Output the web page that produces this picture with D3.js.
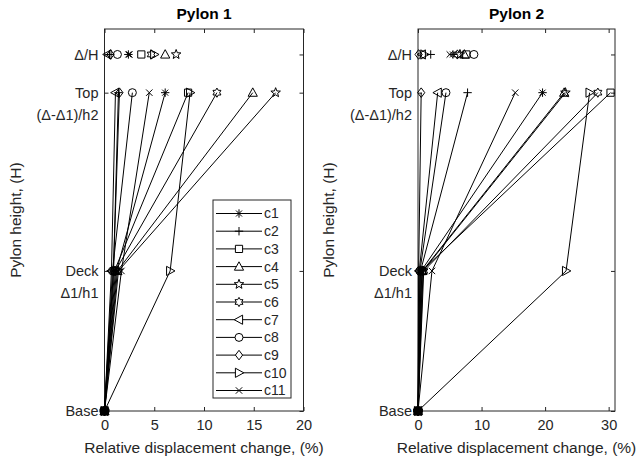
<!DOCTYPE html>
<html><head><meta charset="utf-8">
<script src="https://cdn.jsdelivr.net/npm/d3@7"></script>
<style>body{margin:0;background:#fff}svg{display:block}text{font-family:"Liberation Sans",Arial,sans-serif;fill:#262626}</style>
</head><body><svg id="c" width="641" height="463"></svg>
<script>
const series = ["c1","c2","c3","c4","c5","c6","c7","c8","c9","c10","c11"];
const markers = ["asterisk","plus","square","triUp","pentagram","hexagram","triLeft","circle","diamond","triRight","cross"];
// y levels (fraction of pylon height)
const levelNames = ["Base","Deck","Top","Δ/H"];
const levelValues = [0, 0.44, 1, 1.12];
const levelSub = ["", "Δ1/h1", "(Δ-Δ1)/h2", ""];
// Pylon 1 values (%)
const p1Base  = [0,0,0,0,0,0,0,0,0,0,0];
const p1Deck  = [1.2, 0.9, 1.0, 1.3, 1.4, 1.1, 0.7, 0.8, 0.9, 6.6, 1.7];
const p1Top   = [6.1, 1.4, 8.4, 14.9, 17.2, 11.3, 1.1, 2.8, 1.5, 8.6, 4.5];
const p1Ratio = [2.4, 0.5, 3.7, 6.1, 7.2, 4.7, 0.3, 1.3, 0.6, 5.0, 2.5];
// Pylon 2 values (%)
const p2Base  = [0,0,0,0,0,0,0,0,0,0,0];
const p2Deck  = [0.5, 0.4, 0.6, 0.7, 0.8, 0.9, 0.2, 0.3, 0.1, 23.3, 2.2];
const p2Top   = [19.6, 7.8, 30.3, 23.0, 23.2, 28.3, 3.1, 4.4, 0.5, 27.0, 15.3];
const p2Ratio = [5.5, 2.0, 7.6, 7.3, 6.6, 6.2, 0.6, 8.8, 0.1, 1.0, 5.0];
const p1Ticks = [0,5,10,15,20];
const p2Ticks = [0,10,20,30];

function star(n, ro, ri){
  let p=[];
  for(let i=0;i<2*n;i++){const r=i%2?ri:ro;const a=-Math.PI/2+i*Math.PI/n;p.push([r*Math.cos(a),r*Math.sin(a)]);}
  return "M"+p.map(d=>d[0].toFixed(2)+","+d[1].toFixed(2)).join("L")+"Z";
}
const markerPath = {
  asterisk:"M-4.2,0L4.2,0M0,-4.2L0,4.2M-3,-3L3,3M-3,3L3,-3",
  plus:"M-4.2,0L4.2,0M0,-4.2L0,4.2",
  square:"M-3.6,-3.6h7.2v7.2h-7.2Z",
  triUp:"M0,-4.8L4.6,3.6L-4.6,3.6Z",
  pentagram:star(5,5,2.1),
  hexagram:star(6,4.6,2.7),
  triLeft:"M-4.8,0L3.6,-4.6L3.6,4.6Z",
  circle:"M4,0A4,4 0 1,1 -4,0A4,4 0 1,1 4,0Z",
  diamond:"M0,-4.8L3.6,0L0,4.8L-3.6,0Z",
  triRight:"M4.8,0L-3.6,-4.6L-3.6,4.6Z",
  cross:"M-3.2,-3.2L3.2,3.2M-3.2,3.2L3.2,-3.2"
};
const svg = d3.select("#c");
const axCol = "#262626";

function panel(opt){
  const g = svg.append("g");
  const x = d3.scaleLinear().domain(opt.xDomain).range([opt.left, opt.right]);
  const y = d3.scaleLinear().domain([0,1.2]).range([opt.bottom, opt.top]);
  // title
  g.append("text").attr("x",(opt.left+opt.right)/2).attr("y",opt.top-10).attr("text-anchor","middle")
    .style("font-size","15.5px").style("font-weight","bold").style("fill","#000").text(opt.title);
  // box
  g.append("rect").attr("x",opt.left).attr("y",opt.top).attr("width",opt.right-opt.left).attr("height",opt.bottom-opt.top)
    .attr("fill","none").attr("stroke",axCol).attr("stroke-width",1);
  // x ticks
  const xa = d3.axisBottom(x).tickValues(opt.xTicks).tickSize(-4).tickPadding(9).tickFormat(d3.format("d"));
  const gx = g.append("g").attr("transform",`translate(0,${opt.bottom})`).call(xa);
  gx.select(".domain").remove();
  gx.selectAll("line").attr("stroke",axCol);
  gx.selectAll("text").style("font-size","14.5px").style("font-family","Liberation Sans, Arial, sans-serif").attr("fill",axCol);
  const xt = d3.axisTop(x).tickValues(opt.xTicks).tickSize(-4).tickFormat("");
  const gxt = g.append("g").attr("transform",`translate(0,${opt.top})`).call(xt);
  gxt.select(".domain").remove(); gxt.selectAll("line").attr("stroke",axCol);
  // y ticks
  const ya = d3.axisLeft(y).tickValues(levelValues).tickSize(-4).tickFormat("");
  const gy = g.append("g").attr("transform",`translate(${opt.left},0)`).call(ya);
  gy.select(".domain").remove(); gy.selectAll("line").attr("stroke",axCol);
  const yr = d3.axisRight(y).tickValues(levelValues).tickSize(-4).tickFormat("");
  const gyr = g.append("g").attr("transform",`translate(${opt.right},0)`).call(yr);
  gyr.select(".domain").remove(); gyr.selectAll("line").attr("stroke",axCol);
  levelValues.forEach((v,i)=>{
    g.append("text").attr("x",opt.left-6).attr("y",y(v)).attr("dy","0.35em").attr("text-anchor","end")
      .style("font-size","14.5px").text(levelNames[i]);
    if(levelSub[i]) g.append("text").attr("x",opt.left-6).attr("y",y(v)+22).attr("dy","0.35em").attr("text-anchor","end")
      .style("font-size","14.5px").text(levelSub[i]);
  });
  // axis labels
  g.append("text").attr("x",(opt.left+opt.right)/2).attr("y",opt.bottom+42).attr("text-anchor","middle")
    .style("font-size","15.5px").text("Relative displacement change, (%)");
  g.append("text").attr("transform",`translate(${opt.left-84},${(opt.top+opt.bottom)/2}) rotate(-90)`).attr("text-anchor","middle")
    .style("font-size","15.5px").text("Pylon height, (H)");
  // lines
  const line = d3.line().x(d=>x(d[0])).y(d=>y(d[1]));
  series.forEach((s,i)=>{
    const pts = [[opt.base[i],levelValues[0]],[opt.deck[i],levelValues[1]],[opt.topv[i],levelValues[2]]];
    g.append("path").attr("d",line(pts)).attr("fill","none").attr("stroke","#000").attr("stroke-width",1);
    pts.forEach(p=>{
      g.append("path").attr("d",markerPath[markers[i]]).attr("transform",`translate(${x(p[0])},${y(p[1])})`)
        .attr("fill","none").attr("stroke","#000").attr("stroke-width",1);
    });
    g.append("path").attr("d",markerPath[markers[i]]).attr("transform",`translate(${x(opt.ratio[i])},${y(levelValues[3])})`)
      .attr("fill","none").attr("stroke","#000").attr("stroke-width",1);
  });
  g.append("circle").attr("cx",x(0)).attr("cy",y(0)).attr("r",5).attr("fill","#000");
  return {x,y};
}
panel({title:"Pylon 1",left:104.5,right:303.5,top:29,bottom:411,xDomain:[0,20],xTicks:p1Ticks,
  base:p1Base,deck:p1Deck,topv:p1Top,ratio:p1Ratio});
panel({title:"Pylon 2",left:418,right:615,top:29,bottom:411,xDomain:[0,31],xTicks:p2Ticks,
  base:p2Base,deck:p2Deck,topv:p2Top,ratio:p2Ratio});

// legend
const lg = svg.append("g");
const lx=213, ly=200, lw=78, lh=198;
lg.append("rect").attr("x",lx).attr("y",ly).attr("width",lw).attr("height",lh).attr("fill","#fff").attr("stroke",axCol).attr("stroke-width",1);
const ls = d3.scalePoint().domain(series).range([213.5,390.5]);
series.forEach((s,i)=>{
  const yy = ls(s);
  lg.append("line").attr("x1",216).attr("x2",262).attr("y1",yy).attr("y2",yy).attr("stroke","#000").attr("stroke-width",1);
  lg.append("path").attr("d",markerPath[markers[i]]).attr("transform",`translate(239,${yy})`).attr("fill","#fff").attr("stroke","#000").attr("stroke-width",1);
  lg.append("text").attr("x",264).attr("y",yy).attr("dy","0.35em").style("font-size","14px").text(s);
});
</script></body></html>
